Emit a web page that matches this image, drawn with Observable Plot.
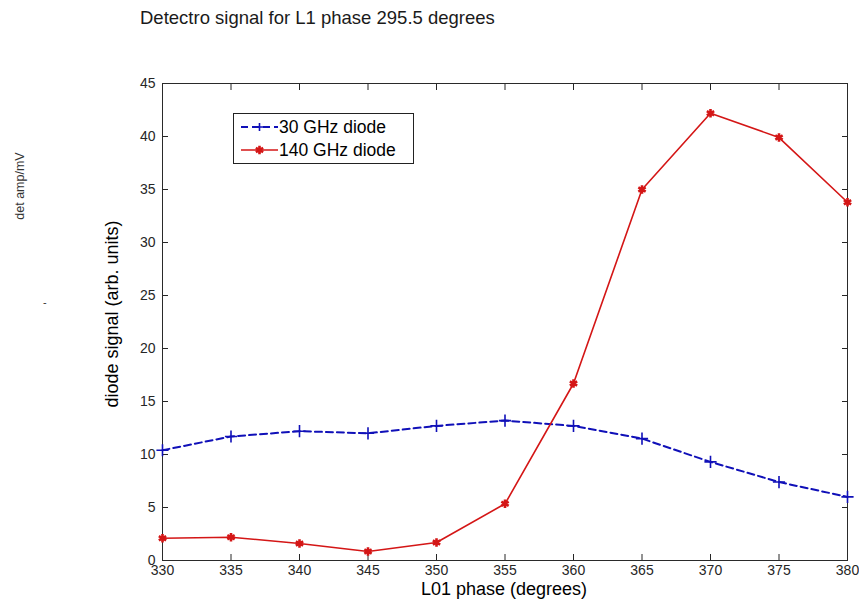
<!DOCTYPE html>
<html><head><meta charset="utf-8">
<script src="https://cdn.jsdelivr.net/npm/d3@7"></script>
<script src="https://cdn.jsdelivr.net/npm/@observablehq/plot@0.6"></script>
<style>
body{margin:0;background:#fff;font-family:"Liberation Sans",Arial,sans-serif;}
#wrap{position:relative;width:859px;height:600px;overflow:hidden;}
.abs{position:absolute;white-space:nowrap;color:#1a1a1a;}
</style></head><body><div id="wrap"></div>
<script>
const phase = [330, 335, 340, 345, 350, 355, 360, 365, 370, 375, 380];
const diode30 = [10.4, 11.7, 12.2, 12.0, 12.7, 13.2, 12.7, 11.5, 9.3, 7.4, 6.0];
const diode140 = [2.1, 2.2, 1.6, 0.85, 1.7, 5.35, 16.7, 35.0, 42.2, 39.9, 33.8];
const xTicks = [330, 335, 340, 345, 350, 355, 360, 365, 370, 375, 380];
const yTicks = [0, 5, 10, 15, 20, 25, 30, 35, 40, 45];
const seriesNames = ["30 GHz diode", "140 GHz diode"];
const titleText = "Detectro signal for L1 phase 295.5 degrees";
const xLabel = "L01 phase (degrees)";
const yLabel = "diode signal (arb. units)";
const sideLabel = "det amp/mV";

const BLUE = "#1010b8", RED = "#d41616";
const d30 = phase.map((p, i) => ({phase: p, value: diode30[i]}));
const d140 = phase.map((p, i) => ({phase: p, value: diode140[i]}));

const chart = Plot.plot({
  width: 859, height: 600,
  marginLeft: 162, marginRight: 12, marginTop: 83, marginBottom: 40,
  style: {fontFamily: "Liberation Sans, Arial, sans-serif", fontSize: "14px", color: "#262626", background: "#fff"},
  x: {domain: [330, 380]},
  y: {domain: [0, 45]},
  marks: [
    Plot.axisX({anchor: "bottom", ticks: xTicks, tickSize: -6, tickPadding: 11, label: null, tickFormat: d => String(d)}),
    Plot.axisX({anchor: "top", ticks: xTicks, tickSize: -6, tickFormat: () => "", label: null}),
    Plot.axisY({anchor: "left", ticks: yTicks, tickSize: -6, tickPadding: 13, label: null, tickFormat: d => String(d)}),
    Plot.axisY({anchor: "right", ticks: yTicks, tickSize: -6, tickFormat: () => "", label: null}),
    Plot.frame({stroke: "#2a2a2a", strokeWidth: 1}),
    Plot.line(d30, {x: "phase", y: "value", stroke: BLUE, strokeWidth: 2, strokeDasharray: "7,4"}),
    Plot.dot(d30, {x: "phase", y: "value", symbol: "plus", stroke: BLUE, r: 4, strokeWidth: 1.6}),
    Plot.line(d140, {x: "phase", y: "value", stroke: RED, strokeWidth: 1.6}),
    Plot.dot(d140, {x: "phase", y: "value", symbol: "asterisk", stroke: RED, r: 4, strokeWidth: 2.6})
  ]
});
const wrap = document.getElementById("wrap");
wrap.appendChild(chart);

function addText(txt, style) {
  const d = document.createElement("div");
  d.className = "abs";
  d.textContent = txt;
  Object.assign(d.style, style);
  wrap.appendChild(d);
  return d;
}
addText(titleText, {left: "140px", top: "7px", fontSize: "18.5px"});
addText(xLabel, {left: "504px", top: "579px", fontSize: "18px", transform: "translateX(-50%)", color: "#000"});
addText(yLabel, {left: "112px", top: "314px", fontSize: "18px", transform: "translate(-50%,-50%) rotate(-90deg)", color: "#000"});
addText(sideLabel, {left: "20px", top: "186px", fontSize: "12.5px", transform: "translate(-50%,-50%) rotate(-90deg)", color: "#333"});
addText("-", {left: "43px", top: "296px", fontSize: "11px", color: "#333"});

// legend
const lg = document.createElement("div");
Object.assign(lg.style, {position: "absolute", left: "233px", top: "113px", width: "179px", height: "49px",
  border: "1px solid #222", background: "#fff"});
const colors = [BLUE, RED];
seriesNames.forEach((name, i) => {
  const row = document.createElement("div");
  Object.assign(row.style, {position: "absolute", left: "4px", top: (3 + i * 23) + "px", height: "20px", display: "flex", alignItems: "center"});
  const svgNS = "http://www.w3.org/2000/svg";
  const s = document.createElementNS(svgNS, "svg");
  s.setAttribute("width", "40"); s.setAttribute("height", "20");
  const ln = document.createElementNS(svgNS, "line");
  ln.setAttribute("x1", "3"); ln.setAttribute("x2", "40"); ln.setAttribute("y1", "10"); ln.setAttribute("y2", "10");
  ln.setAttribute("stroke", colors[i]); ln.setAttribute("stroke-width", i === 0 ? "2" : "1.6");
  if (i === 0) ln.setAttribute("stroke-dasharray", "7,4");
  s.appendChild(ln);
  const mk = document.createElementNS(svgNS, "path");
  mk.setAttribute("d", i === 0 ? "M21.5,6V14M17.5,10H25.5" : d3.symbol(d3.symbolAsterisk, 50)());
  if (i === 1) mk.setAttribute("transform", "translate(21.5,10)");
  mk.setAttribute("stroke", colors[i]); mk.setAttribute("stroke-width", i === 0 ? "1.6" : "2.6"); mk.setAttribute("fill", "none");
  s.appendChild(mk);
  row.appendChild(s);
  const t = document.createElement("span");
  t.textContent = name;
  Object.assign(t.style, {fontSize: "17.5px", marginLeft: "1px", color: "#000"});
  row.appendChild(t);
  lg.appendChild(row);
});
wrap.appendChild(lg);
</script></body></html>
